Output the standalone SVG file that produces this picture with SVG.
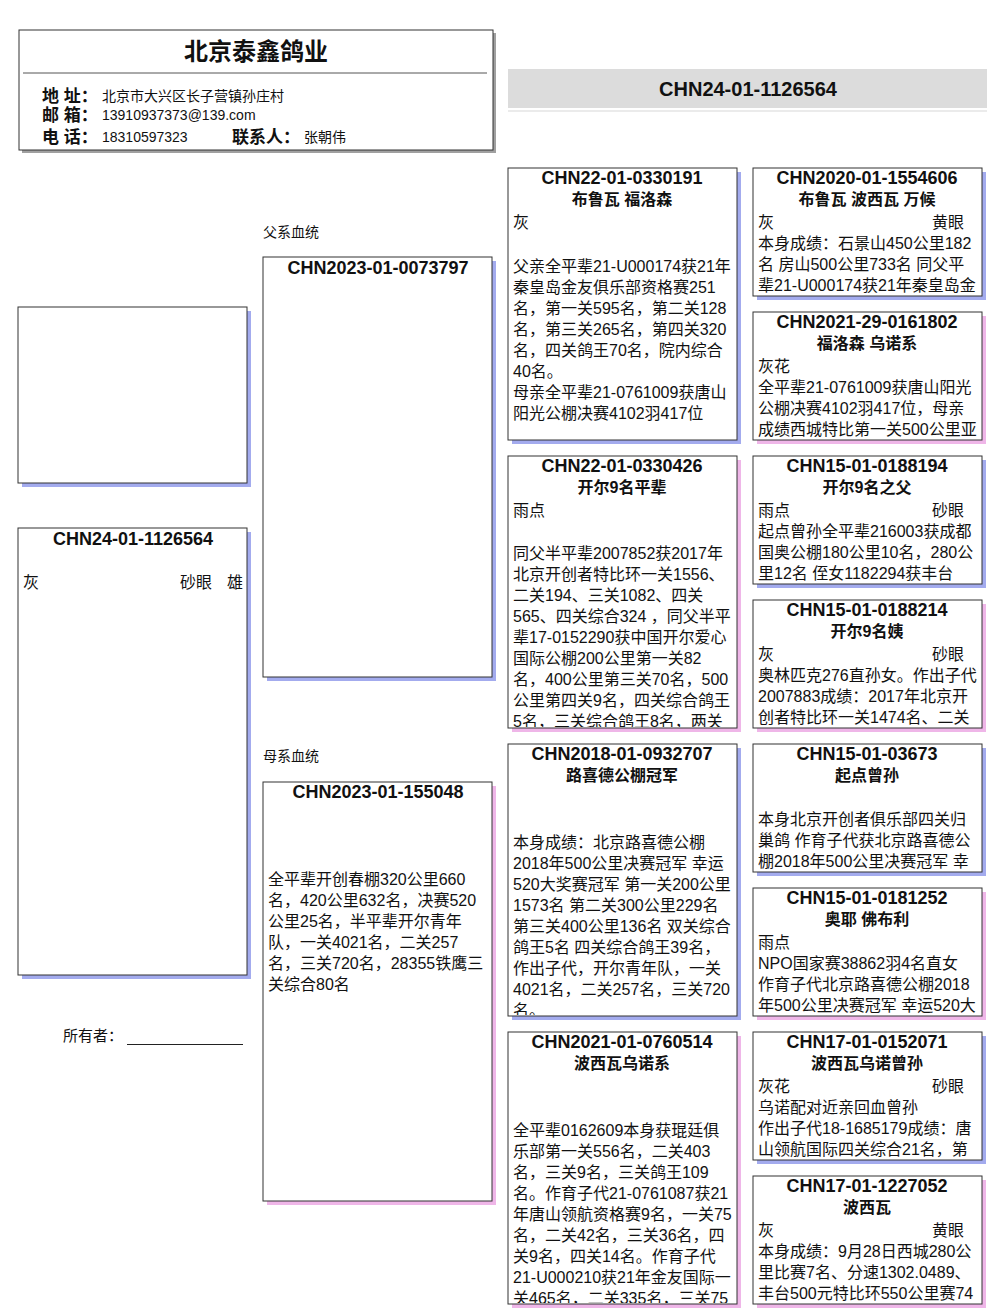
<svg xmlns="http://www.w3.org/2000/svg" width="1006" height="1316" viewBox="0 0 1006 1316">
<style>
text{font-family:"Liberation Sans","Noto Sans CJK SC",sans-serif;fill:#111}
.box{fill:#fff;stroke:#333;stroke-width:1}
.sb{fill:#a3abee}
.sp{fill:#efb6e8}
.t{font-size:18px;font-weight:bold;text-anchor:middle}
.s{font-size:16px;font-weight:bold;text-anchor:middle}
.b{font-size:16px}
.lab{font-size:14px}
.hl{font-size:17px;font-weight:bold}
.hv{font-size:14px}
</style>
<defs>
<clipPath id="c31"><rect x="509" y="169" width="227" height="270"/></clipPath>
<clipPath id="c32"><rect x="509" y="457" width="227" height="270"/></clipPath>
<clipPath id="c33"><rect x="509" y="745" width="227" height="270"/></clipPath>
<clipPath id="c34"><rect x="509" y="1033" width="227" height="270"/></clipPath>
</defs>
<rect width="1006" height="1316" fill="#fff"/>

<g id="header">
<rect x="22" y="33" width="474" height="120" fill="#a0a0a0"/>
<rect x="19" y="30" width="474" height="120" class="box"/>
<text x="256" y="60" style="font-size:24px;font-weight:bold;text-anchor:middle">北京泰鑫鸽业</text>
<line x1="23" y1="73" x2="487" y2="73" stroke="#555" stroke-width="1"/>
<text x="42" y="102" class="hl">地 址：</text>
<text x="102" y="101" class="hv">北京市大兴区长子营镇孙庄村</text>
<text x="42" y="121" class="hl">邮 箱：</text>
<text x="102" y="120" class="hv">13910937373@139.com</text>
<text x="42" y="143" class="hl">电 话：</text>
<text x="102" y="142" class="hv">18310597323</text>
<text x="232" y="143" class="hl">联系人：</text>
<text x="304" y="142" class="hv">张朝伟</text>
</g>

<g id="banner">
<rect x="508" y="69" width="479" height="39" fill="#dcdcdc"/>
<line x1="508" y1="111" x2="987" y2="111" stroke="#e4e4e4" stroke-width="1.5"/>
<text x="748" y="96" style="font-size:20px;font-weight:bold;text-anchor:middle">CHN24-01-1126564</text>
</g>

<g id="photo">
<rect x="22" y="311" width="229" height="176" class="sb"/>
<rect x="18" y="307" width="229" height="176" class="box"/>
</g>

<g id="subject">
<rect x="22" y="532" width="229" height="447" class="sb"/>
<rect x="18" y="528" width="229" height="447" class="box"/>
<text x="133" y="545" class="t">CHN24-01-1126564</text>
<text x="23" y="588" class="b">灰</text>
<text x="180" y="588" class="b">砂眼</text>
<text x="227" y="588" class="b">雄</text>
</g>

<g id="owner">
<text x="63" y="1041" class="lab" style="font-size:15px">所有者：</text>
<line x1="127" y1="1044.5" x2="243" y2="1044.5" stroke="#222" stroke-width="1"/>
</g>

<g id="sire">
<text x="263" y="237" class="lab">父系血统</text>
<rect x="267" y="261" width="229" height="420" class="sb"/>
<rect x="263" y="257" width="229" height="420" class="box"/>
<text x="378" y="274" class="t">CHN2023-01-0073797</text>
</g>

<g id="dam">
<text x="263" y="761" class="lab">母系血统</text>
<rect x="267" y="786" width="229" height="419" class="sp"/>
<rect x="263" y="782" width="229" height="419" class="box"/>
<text x="378" y="798" class="t">CHN2023-01-155048</text>
<text x="268" y="885" class="b">全平辈开创春棚320公里660</text>
<text x="268" y="906" class="b">名，420公里632名，决赛520</text>
<text x="268" y="927" class="b">公里25名，半平辈开尔青年</text>
<text x="268" y="948" class="b">队，一关4021名，二关257</text>
<text x="268" y="969" class="b">名，三关720名，28355铁鹰三</text>
<text x="268" y="990" class="b">关综合80名</text>
</g>

<g id="ss">
<rect x="512" y="172" width="229" height="272" class="sb"/>
<rect x="508" y="168" width="229" height="272" class="box"/>
<g clip-path="url(#c31)">
<text x="622" y="184" class="t">CHN22-01-0330191</text>
<text x="622" y="205" class="s">布鲁瓦 福洛森</text>
<text x="513" y="228" class="b">灰</text>
<text x="513" y="272" class="b">父亲全平辈21-U000174获21年</text>
<text x="513" y="293" class="b">秦皇岛金友俱乐部资格赛251</text>
<text x="513" y="314" class="b">名，第一关595名，第二关128</text>
<text x="513" y="335" class="b">名，第三关265名，第四关320</text>
<text x="513" y="356" class="b">名，四关鸽王70名，院内综合</text>
<text x="513" y="377" class="b">40名。</text>
<text x="513" y="398" class="b">母亲全平辈21-0761009获唐山</text>
<text x="513" y="419" class="b">阳光公棚决赛4102羽417位</text>
</g>
</g>

<g id="sd">
<rect x="512" y="460" width="229" height="272" class="sp"/>
<rect x="508" y="456" width="229" height="272" class="box"/>
<g clip-path="url(#c32)">
<text x="622" y="472" class="t">CHN22-01-0330426</text>
<text x="622" y="493" class="s">开尔9名平辈</text>
<text x="513" y="516" class="b">雨点</text>
<text x="513" y="559" class="b">同父半平辈2007852获2017年</text>
<text x="513" y="580" class="b">北京开创者特比环一关1556、</text>
<text x="513" y="601" class="b">二关194、三关1082、四关</text>
<text x="513" y="622" class="b">565、四关综合324 ，同父半平</text>
<text x="513" y="643" class="b">辈17-0152290获中国开尔爱心</text>
<text x="513" y="664" class="b">国际公棚200公里第一关82</text>
<text x="513" y="685" class="b">名，400公里第三关70名，500</text>
<text x="513" y="706" class="b">公里第四关9名，四关综合鸽王</text>
<text x="513" y="727" class="b">5名，三关综合鸽王8名，两关</text>
</g>
</g>

<g id="ds">
<rect x="512" y="748" width="229" height="272" class="sb"/>
<rect x="508" y="744" width="229" height="272" class="box"/>
<g clip-path="url(#c33)">
<text x="622" y="760" class="t">CHN2018-01-0932707</text>
<text x="622" y="781" class="s">路喜德公棚冠军</text>
<text x="513" y="848" class="b">本身成绩：北京路喜德公棚</text>
<text x="513" y="869" class="b">2018年500公里决赛冠军 幸运</text>
<text x="513" y="890" class="b">520大奖赛冠军 第一关200公里</text>
<text x="513" y="911" class="b">1573名 第二关300公里229名</text>
<text x="513" y="932" class="b">第三关400公里136名 双关综合</text>
<text x="513" y="953" class="b">鸽王5名 四关综合鸽王39名，</text>
<text x="513" y="974" class="b">作出子代，开尔青年队，一关</text>
<text x="513" y="995" class="b">4021名，二关257名，三关720</text>
<text x="513" y="1016" class="b">名。</text>
</g>
</g>

<g id="dd">
<rect x="512" y="1036" width="229" height="272" class="sp"/>
<rect x="508" y="1032" width="229" height="272" class="box"/>
<g clip-path="url(#c34)">
<text x="622" y="1048" class="t">CHN2021-01-0760514</text>
<text x="622" y="1069" class="s">波西瓦乌诺系</text>
<text x="513" y="1136" class="b">全平辈0162609本身获琨廷俱</text>
<text x="513" y="1157" class="b">乐部第一关556名，二关403</text>
<text x="513" y="1178" class="b">名，三关9名，三关鸽王109</text>
<text x="513" y="1199" class="b">名。作育子代21-0761087获21</text>
<text x="513" y="1220" class="b">年唐山领航资格赛9名，一关75</text>
<text x="513" y="1241" class="b">名，二关42名，三关36名，四</text>
<text x="513" y="1262" class="b">关9名，四关14名。作育子代</text>
<text x="513" y="1283" class="b">21-U000210获21年金友国际一</text>
<text x="513" y="1304" class="b">关465名，二关335名，三关75</text>
</g>
</g>

<g id="sss">
<rect x="757" y="172" width="229" height="128" class="sb"/>
<rect x="753" y="168" width="229" height="128" class="box"/>
<text x="867" y="184" class="t">CHN2020-01-1554606</text>
<text x="867" y="205" class="s">布鲁瓦 波西瓦 万候</text>
<text x="758" y="228" class="b">灰</text>
<text x="932" y="228" class="b">黄眼</text>
<text x="758" y="249" class="b">本身成绩：石景山450公里182</text>
<text x="758" y="270" class="b">名 房山500公里733名 同父平</text>
<text x="758" y="291" class="b">辈21-U000174获21年秦皇岛金</text>
</g>

<g id="ssd">
<rect x="757" y="316" width="229" height="128" class="sp"/>
<rect x="753" y="312" width="229" height="128" class="box"/>
<text x="867" y="328" class="t">CHN2021-29-0161802</text>
<text x="867" y="349" class="s">福洛森 乌诺系</text>
<text x="758" y="372" class="b">灰花</text>
<text x="758" y="393" class="b">全平辈21-0761009获唐山阳光</text>
<text x="758" y="414" class="b">公棚决赛4102羽417位，母亲</text>
<text x="758" y="435" class="b">成绩西城特比第一关500公里亚</text>
</g>

<g id="sds">
<rect x="757" y="460" width="229" height="128" class="sb"/>
<rect x="753" y="456" width="229" height="128" class="box"/>
<text x="867" y="472" class="t">CHN15-01-0188194</text>
<text x="867" y="493" class="s">开尔9名之父</text>
<text x="758" y="516" class="b">雨点</text>
<text x="932" y="516" class="b">砂眼</text>
<text x="758" y="537" class="b">起点曾孙全平辈216003获成都</text>
<text x="758" y="558" class="b">国奥公棚180公里10名，280公</text>
<text x="758" y="579" class="b">里12名 侄女1182294获丰台</text>
</g>

<g id="sdd">
<rect x="757" y="604" width="229" height="128" class="sp"/>
<rect x="753" y="600" width="229" height="128" class="box"/>
<text x="867" y="616" class="t">CHN15-01-0188214</text>
<text x="867" y="637" class="s">开尔9名姨</text>
<text x="758" y="660" class="b">灰</text>
<text x="932" y="660" class="b">砂眼</text>
<text x="758" y="681" class="b">奥林匹克276直孙女。作出子代</text>
<text x="758" y="702" class="b">2007883成绩：2017年北京开</text>
<text x="758" y="723" class="b">创者特比环一关1474名、二关</text>
</g>

<g id="dss">
<rect x="757" y="748" width="229" height="128" class="sb"/>
<rect x="753" y="744" width="229" height="128" class="box"/>
<text x="867" y="760" class="t">CHN15-01-03673</text>
<text x="867" y="781" class="s">起点曾孙</text>
<text x="758" y="825" class="b">本身北京开创者俱乐部四关归</text>
<text x="758" y="846" class="b">巢鸽 作育子代获北京路喜德公</text>
<text x="758" y="867" class="b">棚2018年500公里决赛冠军 幸</text>
</g>

<g id="dsd">
<rect x="757" y="892" width="229" height="128" class="sp"/>
<rect x="753" y="888" width="229" height="128" class="box"/>
<text x="867" y="904" class="t">CHN15-01-0181252</text>
<text x="867" y="925" class="s">奥耶 佛布利</text>
<text x="758" y="948" class="b">雨点</text>
<text x="758" y="969" class="b">NPO国家赛38862羽4名直女</text>
<text x="758" y="990" class="b">作育子代北京路喜德公棚2018</text>
<text x="758" y="1011" class="b">年500公里决赛冠军 幸运520大</text>
</g>

<g id="dds">
<rect x="757" y="1036" width="229" height="128" class="sb"/>
<rect x="753" y="1032" width="229" height="128" class="box"/>
<text x="867" y="1048" class="t">CHN17-01-0152071</text>
<text x="867" y="1069" class="s">波西瓦乌诺曾孙</text>
<text x="758" y="1092" class="b">灰花</text>
<text x="932" y="1092" class="b">砂眼</text>
<text x="758" y="1113" class="b">乌诺配对近亲回血曾孙</text>
<text x="758" y="1134" class="b">作出子代18-1685179成绩：唐</text>
<text x="758" y="1155" class="b">山领航国际四关综合21名，第</text>
</g>

<g id="ddd">
<rect x="757" y="1180" width="229" height="128" class="sp"/>
<rect x="753" y="1176" width="229" height="128" class="box"/>
<text x="867" y="1192" class="t">CHN17-01-1227052</text>
<text x="867" y="1213" class="s">波西瓦</text>
<text x="758" y="1236" class="b">灰</text>
<text x="932" y="1236" class="b">黄眼</text>
<text x="758" y="1257" class="b">本身成绩：9月28日西城280公</text>
<text x="758" y="1278" class="b">里比赛7名、分速1302.0489、</text>
<text x="758" y="1299" class="b">丰台500元特比环550公里赛74</text>
</g>

<g id="connectors"></g>
</svg>
